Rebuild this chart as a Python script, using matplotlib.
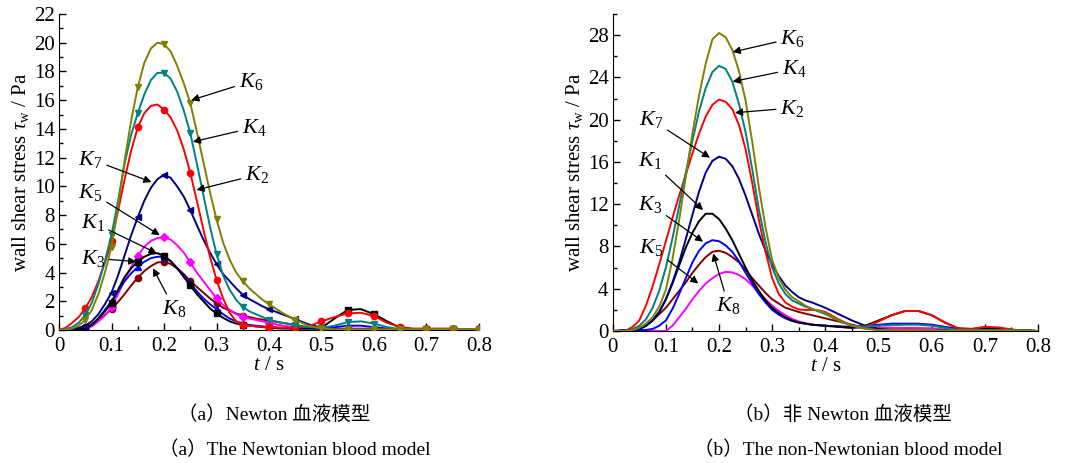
import numpy as np
import matplotlib
matplotlib.use("Agg")
import matplotlib.pyplot as plt
from matplotlib.ticker import MultipleLocator, FuncFormatter

plt.rcParams['font.family'] = ['Liberation Serif', 'Noto Sans CJK SC']
plt.rcParams['mathtext.fontset'] = 'custom'
plt.rcParams['mathtext.rm'] = 'Liberation Serif'
plt.rcParams['mathtext.it'] = 'Liberation Serif:italic'

# time samples (s)
t = [0, 0.0125, 0.025, 0.0375, 0.05, 0.0625, 0.075, 0.0875, 0.1, 0.1125, 0.125, 0.1375,
     0.15, 0.1625, 0.175, 0.1875, 0.2, 0.2125, 0.225, 0.2375, 0.25, 0.2625, 0.275, 0.2875,
     0.3, 0.3125, 0.325, 0.3375, 0.35, 0.3625, 0.375, 0.3875, 0.4,
     0.425, 0.45, 0.475, 0.5, 0.525, 0.55, 0.575, 0.6, 0.625, 0.65, 0.675, 0.7, 0.725,
     0.75, 0.775, 0.8]

# (a) Newtonian blood model
a_K1 = [0, 0, 0.02, 0.05, 0.1, 0.35, 0.8, 1.3, 1.9, 2.8, 3.7, 4.3, 4.75, 5.1, 5.3, 5.35, 5.15,
        4.8, 4.3, 3.7, 3.1, 2.5, 2.0, 1.5, 1.15, 0.85, 0.6, 0.45, 0.35, 0.3, 0.25, 0.2, 0.15,
        0.1, 0.1, 0.1, 0.15, 0.8, 1.4, 1.45, 1.1, 0.6, 0.15, 0.05, 0.05, 0.05, 0.05, 0.05, 0.05]
a_K2 = [0, 0.15, 0.5, 0.9, 1.5, 2.3, 3.4, 4.7, 6.2, 8.3, 10.5, 12.5, 14.1, 15.1, 15.6, 15.7, 15.35,
        14.8, 13.9, 12.6, 10.95, 9.0, 7.0, 5.1, 3.5, 2.2, 1.2, 0.6, 0.35, 0.3, 0.25, 0.22, 0.2,
        0.15, 0.15, 0.25, 0.6, 0.9, 1.15, 1.2, 0.97, 0.5, 0.2, 0.1, 0.1, 0.1, 0.1, 0.05, 0.05]
a_K3 = [0, 0, 0.02, 0.05, 0.1, 0.35, 0.8, 1.4, 2.0, 2.7, 3.4, 3.95, 4.4, 4.75, 5.0, 5.1, 5.1,
        4.8, 4.3, 3.8, 3.25, 2.7, 2.2, 1.8, 1.45, 1.1, 0.8, 0.6, 0.45, 0.35, 0.3, 0.25, 0.2,
        0.15, 0.1, 0.1, 0.1, 0.2, 0.3, 0.3, 0.2, 0.1, 0.05, 0.05, 0.05, 0.05, 0.05, 0.05, 0.05]
a_K4 = [0, 0.05, 0.2, 0.5, 1.05, 1.9, 3.2, 4.8, 6.6, 9.0, 11.6, 13.6, 15.1, 16.4, 17.4, 17.9, 17.9,
        17.5, 16.6, 15.3, 13.7, 11.6, 9.4, 7.2, 5.3, 3.8, 2.8, 2.1, 1.6, 1.3, 1.1, 0.9, 0.7,
        0.5, 0.35, 0.2, 0.15, 0.3, 0.55, 0.6, 0.45, 0.2, 0.05, 0.05, 0.05, 0.05, 0.05, 0.05, 0.05]
a_K5 = [0, 0, 0, 0.02, 0.05, 0.25, 0.6, 1.0, 1.6, 2.5, 3.5, 4.4, 5.15, 5.8, 6.2, 6.4, 6.45,
        6.3, 5.9, 5.4, 4.7, 4.0, 3.4, 2.8, 2.2, 1.75, 1.4, 1.1, 0.9, 0.8, 0.7, 0.6, 0.5,
        0.3, 0.2, 0.15, 0.1, 0.1, 0.1, 0.1, 0.1, 0.05, 0.05, 0.05, 0.05, 0.05, 0.05, 0.05, 0.05]
a_K6 = [0, 0.02, 0.1, 0.3, 0.7, 1.4, 2.5, 4.0, 5.8, 8.6, 11.8, 14.6, 16.9, 18.6, 19.6, 20.0, 19.9,
        19.4, 18.4, 17.2, 15.8, 13.8, 11.7, 9.6, 7.7, 6.1, 4.9, 4.0, 3.4, 2.9, 2.5, 2.1, 1.8,
        1.2, 0.7, 0.3, 0.1, 0.05, 0.05, 0.05, 0.05, 0.05, 0.05, 0.05, 0.05, 0.05, 0.05, 0.05, 0.05]
a_K7 = [0, 0, 0.05, 0.15, 0.3, 0.6, 1.1, 1.8, 2.6, 3.8, 5.2, 6.6, 7.85, 9.0, 9.9, 10.5, 10.8,
        10.6, 10.0, 9.3, 8.35, 7.3, 6.3, 5.4, 4.6, 3.9, 3.4, 2.9, 2.45, 2.15, 1.9, 1.65, 1.45,
        1.1, 0.75, 0.4, 0.15, 0.05, 0.05, 0.05, 0.05, 0.05, 0.05, 0.05, 0.05, 0.05, 0.05, 0.05, 0.05]
a_K8 = [0, 0, 0.05, 0.1, 0.2, 0.4, 0.7, 1.05, 1.45, 1.95, 2.5, 3.1, 3.65, 4.1, 4.45, 4.7, 4.75,
        4.6, 4.3, 3.9, 3.4, 3.0, 2.6, 2.2, 1.85, 1.55, 1.35, 1.15, 1.0, 0.9, 0.8, 0.72, 0.65,
        0.5, 0.35, 0.15, 0.05, 0.05, 0.05, 0.05, 0.05, 0.05, 0.05, 0.05, 0.05, 0.05, 0.05, 0.05, 0.05]

# (b) non-Newtonian blood model
b_K1 = [0, 0, 0.05, 0.1, 0.2, 0.5, 1.0, 1.8, 3.0, 4.5, 6.2, 7.9, 9.3, 10.4, 11.1, 11.1, 10.6,
        9.7, 8.6, 7.3, 6.0, 4.8, 3.8, 2.9, 2.2, 1.7, 1.3, 1.0, 0.8, 0.7, 0.6, 0.55, 0.5,
        0.4, 0.3, 0.5, 1.0, 1.5, 1.9, 1.9, 1.5, 0.8, 0.25, 0.2, 0.3, 0.25, 0.1, 0.05, 0]
b_K2 = [0, 0, 0.05, 0.4, 1.0, 2.4, 4.2, 6.3, 8.5, 10.7, 12.8, 14.8, 16.8, 18.7, 20.3, 21.4, 21.9,
        21.7, 21.0, 19.5, 17.2, 14.0, 10.5, 7.5, 5.0, 3.5, 2.7, 2.3, 2.05, 2.0, 2.0, 1.95, 1.8,
        1.1, 0.5, 0.4, 0.9, 1.5, 1.9, 1.9, 1.5, 0.8, 0.25, 0.2, 0.4, 0.35, 0.15, 0.05, 0]
b_K3 = [0, 0.05, 0.1, 0.1, 0.1, 0.1, 0.2, 0.5, 1.0, 2.1, 3.5, 5.0, 6.5, 7.6, 8.3, 8.6, 8.5,
        8.1, 7.5, 6.6, 5.5, 4.5, 3.5, 2.7, 2.0, 1.55, 1.2, 0.95, 0.8, 0.7, 0.6, 0.55, 0.5,
        0.45, 0.4, 0.5, 0.6, 0.7, 0.7, 0.7, 0.6, 0.4, 0.2, 0.15, 0.2, 0.15, 0.1, 0.05, 0]
b_K4 = [0, 0, 0.05, 0.2, 0.5, 1.1, 2.2, 3.8, 6.0, 8.8, 11.8, 15.0, 18.0, 20.8, 23.0, 24.5, 25.1,
        24.8, 23.6, 21.5, 18.8, 15.3, 11.5, 8.4, 6.0, 4.5, 3.5, 2.9, 2.6, 2.3, 2.1, 1.85, 1.6,
        1.0, 0.5, 0.4, 0.5, 0.55, 0.6, 0.6, 0.5, 0.3, 0.1, 0.1, 0.1, 0.1, 0.1, 0.05, 0]
b_K5 = [0, 0.05, 0.1, 0.15, 0.15, 0.1, 0.05, 0.0, 0.0, 0.5, 1.3, 2.1, 3.0, 3.8, 4.5, 5.0, 5.4,
        5.6, 5.55, 5.3, 4.9, 4.3, 3.6, 3.0, 2.4, 1.9, 1.5, 1.15, 0.9, 0.75, 0.6, 0.55, 0.5,
        0.4, 0.3, 0.3, 0.3, 0.3, 0.3, 0.3, 0.25, 0.15, 0.1, 0.1, 0.1, 0.1, 0.05, 0.05, 0]
b_K6 = [0, 0, 0.02, 0.1, 0.3, 0.7, 1.3, 2.3, 3.9, 6.8, 10.5, 14.6, 18.7, 22.3, 25.3, 27.6, 28.2,
        27.8, 26.6, 24.6, 21.8, 17.9, 13.6, 9.8, 6.7, 5.0, 3.9, 3.2, 2.8, 2.4, 2.1, 1.9, 1.7,
        1.0, 0.5, 0.2, 0.1, 0.1, 0.1, 0.1, 0.1, 0.05, 0.05, 0.05, 0.05, 0.05, 0.05, 0.05, 0]
b_K7 = [0, 0, 0.05, 0.1, 0.2, 0.5, 1.0, 1.8, 3.0, 4.6, 6.5, 8.7, 11.0, 13.2, 15.0, 16.1, 16.5,
        16.3, 15.6, 14.4, 12.8, 11.0, 9.2, 7.6, 6.3, 5.2, 4.3, 3.7, 3.2, 2.9, 2.7, 2.45, 2.2,
        1.6, 1.0, 0.5, 0.2, 0.1, 0.1, 0.1, 0.1, 0.1, 0.05, 0.05, 0.05, 0.05, 0.05, 0.05, 0]
b_K8 = [0, 0.02, 0.05, 0.1, 0.2, 0.5, 1.0, 1.6, 2.2, 3.0, 3.8, 4.6, 5.5, 6.3, 7.0, 7.5, 7.6,
        7.4, 7.0, 6.5, 5.8, 5.0, 4.3, 3.6, 3.0, 2.6, 2.2, 2.0, 1.8, 1.65, 1.5, 1.35, 1.2,
        0.9, 0.6, 0.3, 0.1, 0.15, 0.2, 0.2, 0.15, 0.1, 0.05, 0.05, 0.05, 0.05, 0.05, 0.05, 0]

labels = ['K1', 'K2', 'K3', 'K4', 'K5', 'K6', 'K7', 'K8']
colors = {'K1': '#000000', 'K2': '#ff0000', 'K3': '#0000ff', 'K4': '#008080',
          'K5': '#ff00ff', 'K6': '#808000', 'K7': '#000080', 'K8': '#800000'}
markers = {'K1': 's', 'K2': 'o', 'K3': '^', 'K4': 'v', 'K5': 'D', 'K6': 'v', 'K7': '<', 'K8': 'o'}
msizes = {'K1': 4.5, 'K2': 4.5, 'K3': 5, 'K4': 5, 'K5': 4, 'K6': 5, 'K7': 5, 'K8': 4.5}
draw_order = ['K8', 'K5', 'K3', 'K1', 'K7', 'K2', 'K4', 'K6']
data_a = dict(zip(labels, [a_K1, a_K2, a_K3, a_K4, a_K5, a_K6, a_K7, a_K8]))
data_b = dict(zip(labels, [b_K1, b_K2, b_K3, b_K4, b_K5, b_K6, b_K7, b_K8]))

# annotations: (label, text position, arrow tip) in data coordinates
ann_a = [('K6', (0.342, 17.3), (0.252, 16.0)), ('K4', (0.348, 14.1), (0.255, 13.1)),
         ('K2', (0.354, 10.8), (0.262, 9.75)), ('K7', (0.037, 11.9), (0.176, 10.3)),
         ('K5', (0.037, 9.6), (0.192, 6.6)), ('K1', (0.041, 7.5), (0.186, 5.35)),
         ('K3', (0.042, 5.0), (0.147, 4.76)), ('K8', (0.196, 1.5), (0.179, 4.3))]
ann_b = [('K6', (0.315, 27.7), (0.2256, 26.4)), ('K4', (0.318, 24.8), (0.2256, 23.6)),
         ('K2', (0.315, 21.1), (0.23, 20.66)), ('K7', (0.05, 20.0), (0.183, 16.4)),
         ('K1', (0.048, 16.1), (0.170, 11.45)), ('K3', (0.048, 12.0), (0.170, 8.45)),
         ('K5', (0.05, 7.9), (0.161, 4.5)), ('K8', (0.195, 2.4), (0.189, 7.35))]

mark_idx = [i for i, v in enumerate(t) if v > 0 and abs(v / 0.05 - round(v / 0.05)) < 1e-6]

fig = plt.figure(figsize=(10.73, 4.63), dpi=100)
axa = fig.add_axes([0.055, 0.2873, 0.3914, 0.6825])
axb = fig.add_axes([0.571, 0.285, 0.3964, 0.6848])


def style(ax, ymax, ymaj, ymin):
    ax.set_xlim(0, 0.8)
    ax.set_ylim(0, ymax)
    ax.spines['top'].set_visible(False)
    ax.spines['right'].set_visible(False)
    ax.xaxis.set_major_locator(MultipleLocator(0.1))
    ax.xaxis.set_minor_locator(MultipleLocator(0.05))
    ax.yaxis.set_major_locator(MultipleLocator(ymaj))
    ax.yaxis.set_minor_locator(MultipleLocator(ymin))
    ax.tick_params(which='both', direction='in', labelsize=15, width=1)
    ax.tick_params(which='major', length=5)
    ax.tick_params(axis='x', which='major', pad=5)
    ax.tick_params(axis='y', which='major', pad=3)
    ax.tick_params(which='minor', length=3)
    ax.xaxis.set_major_formatter(FuncFormatter(
        lambda v, p: '0' if abs(v) < 1e-9 else f'{v:.1f}'))
    ax.set_xlabel('$t$ / s', fontsize=15, labelpad=0)
    ax.set_ylabel(r'wall shear stress $\tau_{\mathrm{w}}$ / Pa', fontsize=15, labelpad=2)


for k in draw_order:
    axa.plot(t, data_a[k], color=colors[k], lw=1.4, marker=markers[k], ms=msizes[k],
             markevery=mark_idx, zorder=3)
    axb.plot(t, data_b[k], color=colors[k], lw=1.4, zorder=3)

style(axa, 22, 2, 1)
style(axb, 30, 4, 2)
axa.set_yticks(np.arange(0, 23, 2))
axb.set_yticks(np.arange(0, 29, 4))

for ax, ann in ((axa, ann_a), (axb, ann_b)):
    for k, txy, pxy in ann:
        ax.annotate(f'$K_{{{k[1]}}}$', xy=pxy, xytext=txy, fontsize=16,
                    ha='left', va='center',
                    arrowprops=dict(arrowstyle='-|>', color='black', lw=0.9,
                                    mutation_scale=11, shrinkA=1, shrinkB=0),
                    zorder=5)

fig.text(274 / 1073, 1 - 415 / 463, '（a）Newton 血液模型', ha='center', va='center', fontsize=14)
fig.text(295 / 1073, 1 - 450 / 463, '（a）The Newtonian blood model', ha='center', va='center', fontsize=14)
fig.text(843 / 1073, 1 - 415 / 463, '（b）非 Newton 血液模型', ha='center', va='center', fontsize=14)
fig.text(848 / 1073, 1 - 450 / 463, '（b）The non-Newtonian blood model', ha='center', va='center', fontsize=14)

fig.savefig('out.png', dpi=100)
